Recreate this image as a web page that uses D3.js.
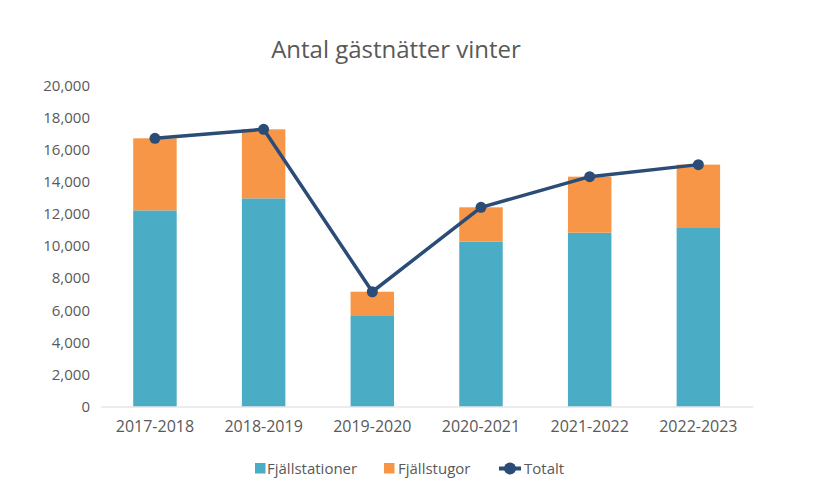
<!DOCTYPE html>
<html>
<head>
<meta charset="utf-8">
<script src="https://cdn.jsdelivr.net/npm/d3@7"></script>
<style>
  body { margin: 0; background: #fff; }
  svg { display: block; font-family: "Open Sans", sans-serif; }
</style>
</head>
<body>
<svg id="chart" width="830" height="492"></svg>
<script>
const categories = ["2017-2018", "2018-2019", "2019-2020", "2020-2021", "2021-2022", "2022-2023"];
const fjallstationer = [12220, 12970, 5640, 10270, 10830, 11170];
const fjallstugor = [4490, 4300, 1510, 2140, 3490, 3900];
const totalt = [16710, 17270, 7150, 12410, 14320, 15070];
const yTicks = [0, 2000, 4000, 6000, 8000, 10000, 12000, 14000, 16000, 18000, 20000];
const seriesNames = ["Fjällstationer", "Fjällstugor", "Totalt"];

const colors = { stat: "#4BACC6", stug: "#F79646", line: "#2B4C77", text: "#595959" };

const svg = d3.select("#chart");
const x = d3.scaleBand().domain(categories).range([100.6, 752.7]).paddingInner(0.6).paddingOuter(0.3);
const y = d3.scaleLinear().domain([0, 20000]).range([406.5, 85.5]);

// title
svg.append("text").attr("x", 396).attr("y", 58).attr("text-anchor", "middle")
  .attr("font-size", 24).attr("fill", colors.text).text("Antal gästnätter vinter");

// y axis
const yAxis = svg.append("g").attr("transform", "translate(96,0)")
  .call(d3.axisLeft(y).tickValues(yTicks).tickFormat(d3.format(",")).tickSize(0).tickPadding(6));
yAxis.select(".domain").remove();
yAxis.selectAll("text").attr("font-size", 15).attr("fill", colors.text).attr("font-family", "Open Sans, sans-serif");

// bars
const data = categories.map((c, i) => ({ c, a: fjallstationer[i], b: fjallstugor[i], t: totalt[i] }));
svg.append("g").selectAll("rect").data(data).join("rect")
  .attr("x", d => x(d.c)).attr("width", x.bandwidth())
  .attr("y", d => y(d.a)).attr("height", d => y(0) - y(d.a)).attr("fill", colors.stat);
svg.append("g").selectAll("rect").data(data).join("rect")
  .attr("x", d => x(d.c)).attr("width", x.bandwidth())
  .attr("y", d => y(d.a + d.b)).attr("height", d => y(d.a) - y(d.a + d.b)).attr("fill", colors.stug);

// x axis
const xAxis = svg.append("g").attr("transform", `translate(0,${y(0)})`)
  .call(d3.axisBottom(x).tickSize(0).tickPadding(14));
xAxis.select(".domain").attr("stroke", "#d9d9d9").attr("stroke-width", 1.2);
xAxis.selectAll("text").attr("font-size", 16).attr("fill", colors.text).attr("font-family", "Open Sans, sans-serif");

// line
const cx = d => x(d.c) + x.bandwidth() / 2;
svg.append("path").datum(data)
  .attr("d", d3.line().x(cx).y(d => y(d.t)))
  .attr("fill", "none").attr("stroke", colors.line).attr("stroke-width", 3.5).attr("stroke-linejoin", "round");
svg.append("g").selectAll("circle").data(data).join("circle")
  .attr("cx", cx).attr("cy", d => y(d.t)).attr("r", 5.5).attr("fill", colors.line);

// legend
const lg = svg.append("g").attr("font-size", 15).attr("fill", colors.text);
lg.append("rect").attr("x", 255).attr("y", 463).attr("width", 10.5).attr("height", 10.5).attr("fill", colors.stat);
lg.append("text").attr("x", 267).attr("y", 474).text(seriesNames[0]);
lg.append("rect").attr("x", 384).attr("y", 463).attr("width", 10.5).attr("height", 10.5).attr("fill", colors.stug);
lg.append("text").attr("x", 398).attr("y", 474).text(seriesNames[1]);
lg.append("line").attr("x1", 499).attr("x2", 521).attr("y1", 468.5).attr("y2", 468.5)
  .attr("stroke", colors.line).attr("stroke-width", 4);
lg.append("circle").attr("cx", 510).attr("cy", 468.5).attr("r", 6).attr("fill", colors.line);
lg.append("text").attr("x", 524).attr("y", 474).text(seriesNames[2]);
</script>
</body>
</html>
